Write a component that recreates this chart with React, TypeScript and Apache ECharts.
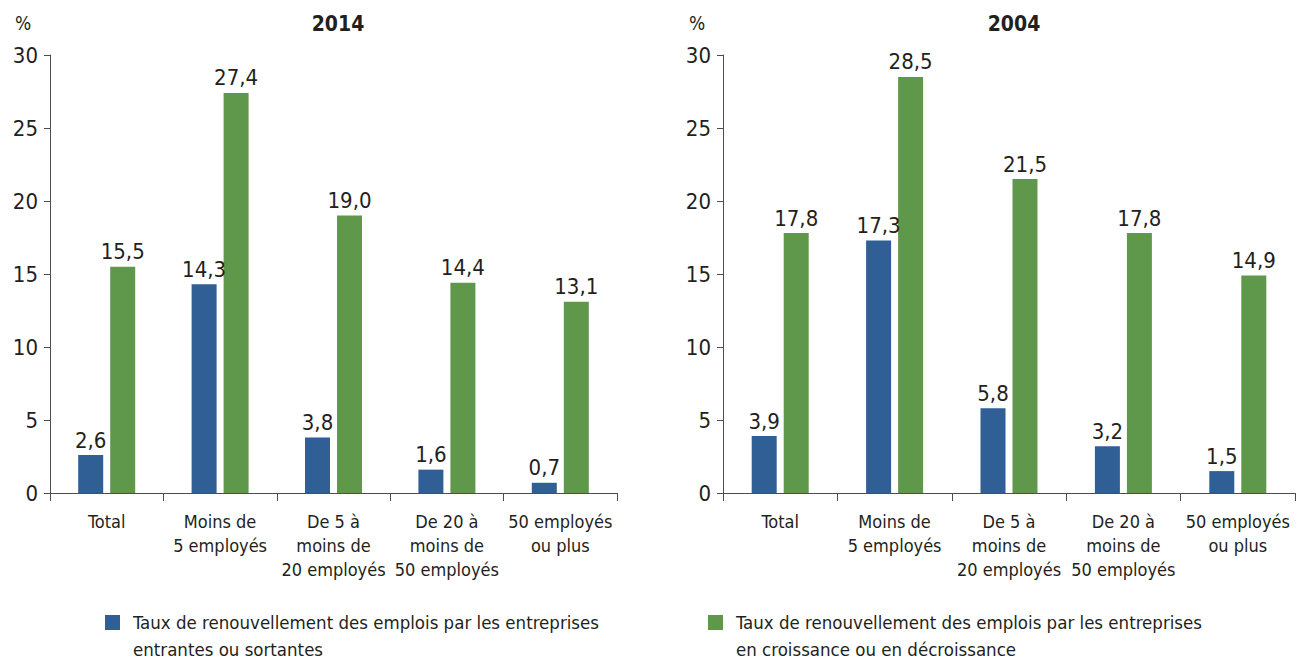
import React, { useEffect, useRef } from "react";
import * as echarts from "echarts";

const categories = [
  "Total",
  "Moins de\n5 employés",
  "De 5 à\nmoins de\n20 employés",
  "De 20 à\nmoins de\n50 employés",
  "50 employés\nou plus",
];
const panelTitles = ["2014", "2004"];
const seriesNames = [
  "Taux de renouvellement des emplois par les entreprises\nentrantes ou sortantes",
  "Taux de renouvellement des emplois par les entreprises\nen croissance ou en décroissance",
];
const entrants2014 = [2.6, 14.3, 3.8, 1.6, 0.7];
const growth2014 = [15.5, 27.4, 19.0, 14.4, 13.1];
const entrants2004 = [3.9, 17.3, 5.8, 3.2, 1.5];
const growth2004 = [17.8, 28.5, 21.5, 17.8, 14.9];

const FONT = "'Liberation Sans Narrow', 'DejaVu Sans Condensed', 'Roboto Condensed', 'Liberation Sans', sans-serif";
const BLUE = "#2f5f94";
const GREEN = "#5f984a";
const TEXT = "#231f20";
const AXIS = "#4d4d4d";

export default function App() {
  const ref = useRef<HTMLDivElement>(null);
  useEffect(() => {
    if (!ref.current) return;
    const chart = echarts.init(ref.current, undefined, { renderer: "svg" });
    const grids = [
      { left: 50, right: 681, top: 55, bottom: 171 },
      { left: 723, right: 3, top: 55, bottom: 171 },
    ];
    const fmt = (p: any) => Number(p.value).toFixed(1).replace(".", ",");
    const label = {
      show: true,
      position: "top",
      distance: 4,
      formatter: fmt,
      fontFamily: FONT,
      fontSize: 22,
      color: TEXT,
    };
    const mkBar = (name: string, data: number[], color: string, idx: number) => ({
      type: "bar",
      name,
      data,
      xAxisIndex: idx,
      yAxisIndex: idx,
      barWidth: 25,
      barGap: "28%",
      itemStyle: { color },
      label,
    });
    const xAxis = grids.map((_, i) => ({
      type: "category",
      gridIndex: i,
      data: categories,
      axisLine: { lineStyle: { color: AXIS, width: 1 } },
      axisTick: { show: true, length: 8, lineStyle: { color: AXIS } },
      axisLabel: {
        interval: 0,
        margin: 16,
        fontFamily: FONT,
        fontSize: 18,
        lineHeight: 24,
        color: TEXT,
      },
    }));
    const yAxis = grids.map((_, i) => ({
      type: "value",
      gridIndex: i,
      min: 0,
      max: 30,
      interval: 5,
      splitLine: { show: false },
      axisLine: { show: true, lineStyle: { color: AXIS, width: 1 } },
      axisTick: { show: true, length: 6, lineStyle: { color: AXIS } },
      axisLabel: {
        margin: 12,
        fontFamily: FONT,
        fontSize: 22,
        color: TEXT,
      },
    }));
    const legendText = {
      fontFamily: FONT,
      fontSize: 18.5,
      color: TEXT,
      lineHeight: 27,
      padding: [0, 0, 0, 8],
    };
    const mkLegend = (i: number, left: number) => ({
      data: [seriesNames[i]],
      left,
      top: 582,
      padding: 0,
      icon: "rect",
      itemWidth: 15,
      itemHeight: 15,
      itemGap: 12,
      selectedMode: false,
      formatter: (n: string) => "\n" + n,
      textStyle: legendText,
    });
    chart.setOption({
      animation: false,
      backgroundColor: "#ffffff",
      title: [
        {
          text: panelTitles[0],
          left: 333,
          top: 8,
          textAlign: "center",
          textStyle: { fontFamily: FONT, fontSize: 21, fontWeight: "bold", color: TEXT },
        },
        {
          text: panelTitles[1],
          left: 1009,
          top: 8,
          textAlign: "center",
          textStyle: { fontFamily: FONT, fontSize: 21, fontWeight: "bold", color: TEXT },
        },
        {
          text: "%",
          left: 10,
          top: 8,
          textStyle: { fontFamily: FONT, fontSize: 19, fontWeight: "normal", color: TEXT },
        },
        {
          text: "%",
          left: 684,
          top: 8,
          textStyle: { fontFamily: FONT, fontSize: 19, fontWeight: "normal", color: TEXT },
        },
      ],
      legend: [mkLegend(0, 105), mkLegend(1, 708)],
      grid: grids,
      xAxis,
      yAxis,
      series: [
        mkBar(seriesNames[0], entrants2014, BLUE, 0),
        mkBar(seriesNames[1], growth2014, GREEN, 0),
        mkBar(seriesNames[0], entrants2004, BLUE, 1),
        mkBar(seriesNames[1], growth2004, GREEN, 1),
      ],
    });
    return () => chart.dispose();
  }, []);
  return (
    <div
      ref={ref}
      style={{ position: "fixed", left: 0, top: 0, width: 1298, height: 664, background: "#fff" }}
    />
  );
}
